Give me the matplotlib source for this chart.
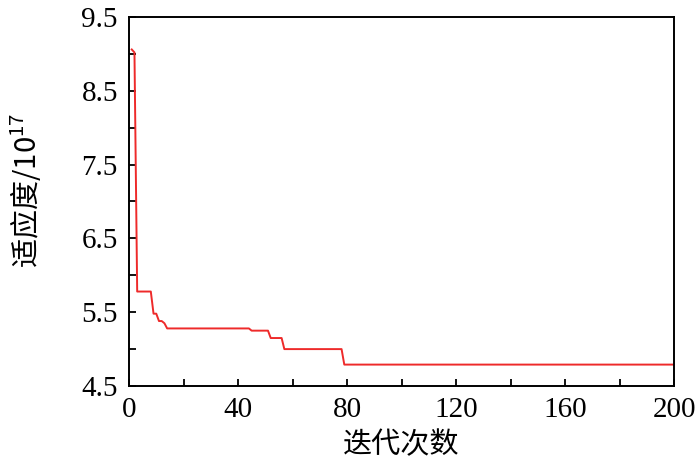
import matplotlib
matplotlib.use("Agg")
import matplotlib.pyplot as plt
from matplotlib.ticker import FixedLocator

plt.rcParams['font.family'] = ['Liberation Serif', 'Noto Sans CJK SC', 'DejaVu Sans']
plt.rcParams['mathtext.fontset'] = 'custom'
plt.rcParams['mathtext.rm'] = 'Liberation Serif'
plt.rcParams['mathtext.default'] = 'regular'

# Data (change points of the best-fitness curve)
iterations = [1, 2, 3, 8, 9, 10, 11, 12, 13, 14, 44, 45, 51, 52, 56, 57, 78, 79, 200]
fitness = [9.06, 9.02, 5.78, 5.78, 5.48, 5.48, 5.38, 5.38, 5.35, 5.28, 5.28,
           5.25, 5.25, 5.15, 5.15, 5.00, 5.00, 4.79, 4.79]

x_major = [0, 40, 80, 120, 160, 200]
x_minor = [20, 60, 100, 140, 180]
y_major = [4.5, 5.5, 6.5, 7.5, 8.5, 9.5]
y_minor = [5.0, 6.0, 7.0, 8.0, 9.0]

fig = plt.figure(figsize=(7.0, 4.72), dpi=100)
ax = fig.add_axes([0.1843, 0.1822, 0.7786, 0.7818])

ax.plot(iterations, fitness, color='#ee2a2a', linewidth=1.4)

ax.set_xlim(0, 200)
ax.set_ylim(4.5, 9.5)
ax.xaxis.set_major_locator(FixedLocator(x_major))
ax.xaxis.set_minor_locator(FixedLocator(x_minor))
ax.yaxis.set_major_locator(FixedLocator(y_major))
ax.yaxis.set_minor_locator(FixedLocator(y_minor))
ax.set_xticklabels([str(v) for v in x_major])
ax.set_yticklabels(['%.1f' % v for v in y_major])

ax.tick_params(which='both', direction='in', length=5, width=1.3,
               top=False, right=False, labelsize=21, color='black')
ax.tick_params(axis='x', pad=8)
ax.tick_params(axis='y', pad=8)

for sp in ax.spines.values():
    sp.set_linewidth(1.4)

ax.set_xlabel('迭代次数', family=['Noto Sans CJK SC'], fontsize=21, weight='light')
ax.set_ylabel('适应度$/10^{17}$', family=['Noto Sans CJK SC'], fontsize=21, weight='light')
ax.xaxis.set_label_coords(0.5, -0.12)
ax.yaxis.set_label_coords(-0.158, 0.53)

fig.savefig('out.png', dpi=100)
